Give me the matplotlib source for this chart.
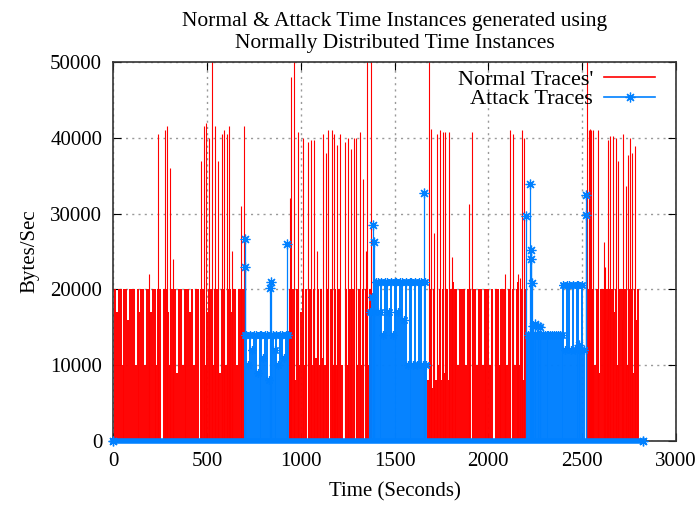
import numpy as np
import matplotlib
matplotlib.use("Agg")
import matplotlib.pyplot as plt
from matplotlib.lines import Line2D

plt.rcParams['font.family'] = ['Liberation Serif', 'DejaVu Serif']

# sample step of the dense traces (seconds); values below are in thousands of Bytes/Sec
step = 10

# Normal traces: dense blocks (start time, values every 10 s)
normal_starts = [10, 940, 1680, 2530]
normal_blocks = [
    [20, 17, 20, 20, 10, 20, 20, 16, 20, 20,
     20, 10, 20, 17, 20, 20, 10, 20, 20, 17,
     20, 20, 10, 20, 20, 0, 20, 20, 17, 10,
     20, 20, 20, 9, 20, 20, 10, 20, 20, 20,
     17, 20, 10, 20, 20, 0, 20, 20, 10, 17,
     20, 20, 10, 20, 20, 20, 9, 20, 20, 10,
     20, 20, 17, 20, 20, 10, 20, 20, 20],
    [20, 10, 20, 8, 20, 10, 17, 20, 10, 20,
     0, 20, 10, 20, 11, 20, 10, 20, 11, 10,
     20, 0, 20, 10, 20, 10, 20, 20, 10, 0,
     20, 10, 20, 10, 20, 0, 10, 20, 10, 20,
     0, 20, 10, 20],
    [8, 20, 7, 20, 8, 10, 20, 8, 20, 9,
     20, 8, 20, 21, 20, 20, 10, 20, 20, 20,
     10, 20, 20, 0, 20, 20, 10, 20, 20, 10,
     20, 20, 20, 10, 20, 0, 20, 20, 10, 20,
     20, 20, 10, 20, 0, 20, 10, 20, 21, 10,
     20, 8, 20],
    [20, 9, 20, 20, 10, 20, 9, 20, 20, 10,
     20, 16, 20, 20, 17, 20, 10, 20, 20, 16,
     20, 10, 20, 20, 9, 20, 16, 20],
]
# Normal traces: isolated peaks
normal_peak_t = [190, 238, 275, 285, 300, 321, 470, 485, 497, 512, 528, 544, 560,
                 580, 591, 607, 618, 634, 681, 697,
                 940, 950, 962, 983, 1010, 1040, 1055, 1070, 1088, 1120, 1135, 1146,
                 1167, 1178, 1193, 1210, 1235, 1252, 1267, 1283, 1294, 1315, 1331,
                 1346, 1352, 1373,
                 1685, 1696, 1711, 1727, 1743, 1759, 1770, 1791, 1806, 1896, 1912,
                 2090, 2113, 2133, 2160, 2170, 2180, 2191,
                 2528, 2535, 2540, 2548, 2560, 2582, 2614, 2624, 2640, 2650, 2666,
                 2682, 2692, 2719, 2735, 2745, 2755, 2766, 2782]
normal_peak_v = [22, 40.5, 41, 41.5, 36, 24, 37, 41.5, 42, 40, 55, 41.5, 37,
                 40.5, 41, 40.5, 41.5, 25, 31, 41.5,
                 32, 48, 55, 40.8, 40, 39.5, 39.7, 39.7, 25, 40.5, 38, 41,
                 41, 40.5, 39, 40.5, 39.5, 40, 38.5, 40, 40, 40.7, 34.5,
                 25, 55, 55,
                 55, 41.2, 27.5, 40.5, 41, 40.8, 40.8, 40.8, 24.3, 31.2, 40.7,
                 22, 41, 40.5, 22, 21.5, 41, 40,
                 55, 41, 41.2, 41, 41, 41, 26.3, 23, 39.7, 40.2, 40.2,
                 40, 37, 40.5, 33.6, 37.7, 40, 38, 38.9]

# Attack traces: dense blocks
attack_starts = [700, 1370, 2210]
attack_blocks = [
    [14, 14, 10, 14, 12, 14, 14, 9, 14, 14, 11, 14, 14, 8, 14, 14,
     12, 14, 10, 14, 14, 11, 14, 14],
    [17, 19, 17, 21, 21, 17, 21, 14, 21, 21, 17,
     21, 14, 21, 21, 17, 21, 21, 16, 21, 10,
     21, 21, 10, 21, 10, 21, 21, 10, 21, 10],
    [14, 14, 14, 14, 14, 14, 14, 14, 14, 14,
     14, 14, 14, 14, 14, 14, 14, 14, 14, 20.6,
     12, 20.6, 20.6, 12, 20.6, 12, 20.6, 20.6, 12, 20.6, 12],
]
# Attack traces: isolated peaks
attack_peak_t = [700, 702, 835, 843, 928, 1384, 1388, 1658,
                 2198, 2224, 2226, 2228, 2230, 2240, 2250, 2265, 2275, 2482, 2518, 2520]
attack_peak_v = [26.7, 23, 20.2, 21, 26, 28.5, 26.3, 32.7,
                 29.7, 33.9, 25.2, 24, 20.9, 15.2, 15.4, 15.1, 15.0, 12.7, 32.4, 29.8]
# attack trace stays at zero over the whole capture
attack_span = [0, 2825]

red = '#ff0000'
blue = '#0080ff'
star = (8, 2, 0)

fig = plt.figure(figsize=(6.99, 5.08), dpi=100)
ax = fig.add_axes([0.162, 0.132, 0.805, 0.746])

for start, vals in zip(normal_starts, normal_blocks):
    t = start + step * np.arange(len(vals))
    ax.vlines(t, 0, np.array(vals) * 1000, color=red, lw=1.4, zorder=2)
ax.vlines(normal_peak_t, 0, np.array(normal_peak_v) * 1000, color=red, lw=0.8, zorder=2)

for start, vals in zip(attack_starts, attack_blocks):
    t = start + step * np.arange(len(vals))
    v = np.array(vals) * 1000
    ax.vlines(t, 0, v, color=blue, lw=1.4, zorder=3)
    ax.plot(t, v, ls='none', marker=star, ms=6, mew=0.9, color=blue, zorder=3)
ax.vlines(attack_peak_t, 0, np.array(attack_peak_v) * 1000, color=blue, lw=0.9, zorder=3)
ax.plot(attack_peak_t, np.array(attack_peak_v) * 1000, ls='none', marker=star,
        ms=7, mew=0.9, color=blue, zorder=3)
ax.plot(attack_span, [0, 0], color=blue, lw=4, marker=star, ms=7, mew=1,
        zorder=4, clip_on=False)

ax.set_xlim(0, 3000)
ax.set_ylim(0, 50000)
ax.set_xticks(np.arange(0, 3001, 500))
ax.set_yticks(np.arange(0, 50001, 10000))
ax.tick_params(direction='in', top=True, right=True, length=6, labelsize=15, pad=8)
ax.grid(True, color='#999999', ls=(0, (1.5, 3)), lw=1)
ax.set_axisbelow(True)
for s in ax.spines.values():
    s.set_color('#333333')
    s.set_linewidth(1.2)

ax.set_xlabel('Time (Seconds)', fontsize=15, labelpad=8)
ax.set_ylabel('Bytes/Sec', fontsize=15, labelpad=8)
ax.set_title('Normal & Attack Time Instances generated using\nNormally Distributed Time Instances',
             fontsize=15.5, pad=10, linespacing=1.2)

handles = [Line2D([], [], color=red, lw=1.2),
           Line2D([], [], color=blue, lw=1.2, marker=star, ms=7, mew=0.9)]
leg = ax.legend(handles, ["Normal Traces'", 'Attack Traces'], loc='upper right',
                bbox_to_anchor=(0.979, 1.004), frameon=False, markerfirst=False,
                fontsize=16, handlelength=2.3, labelspacing=-0.05,
                borderaxespad=0.0, handletextpad=0.5)
for txt in leg.get_texts():
    txt.set_ha('right')

fig.savefig('out.png', dpi=100)
